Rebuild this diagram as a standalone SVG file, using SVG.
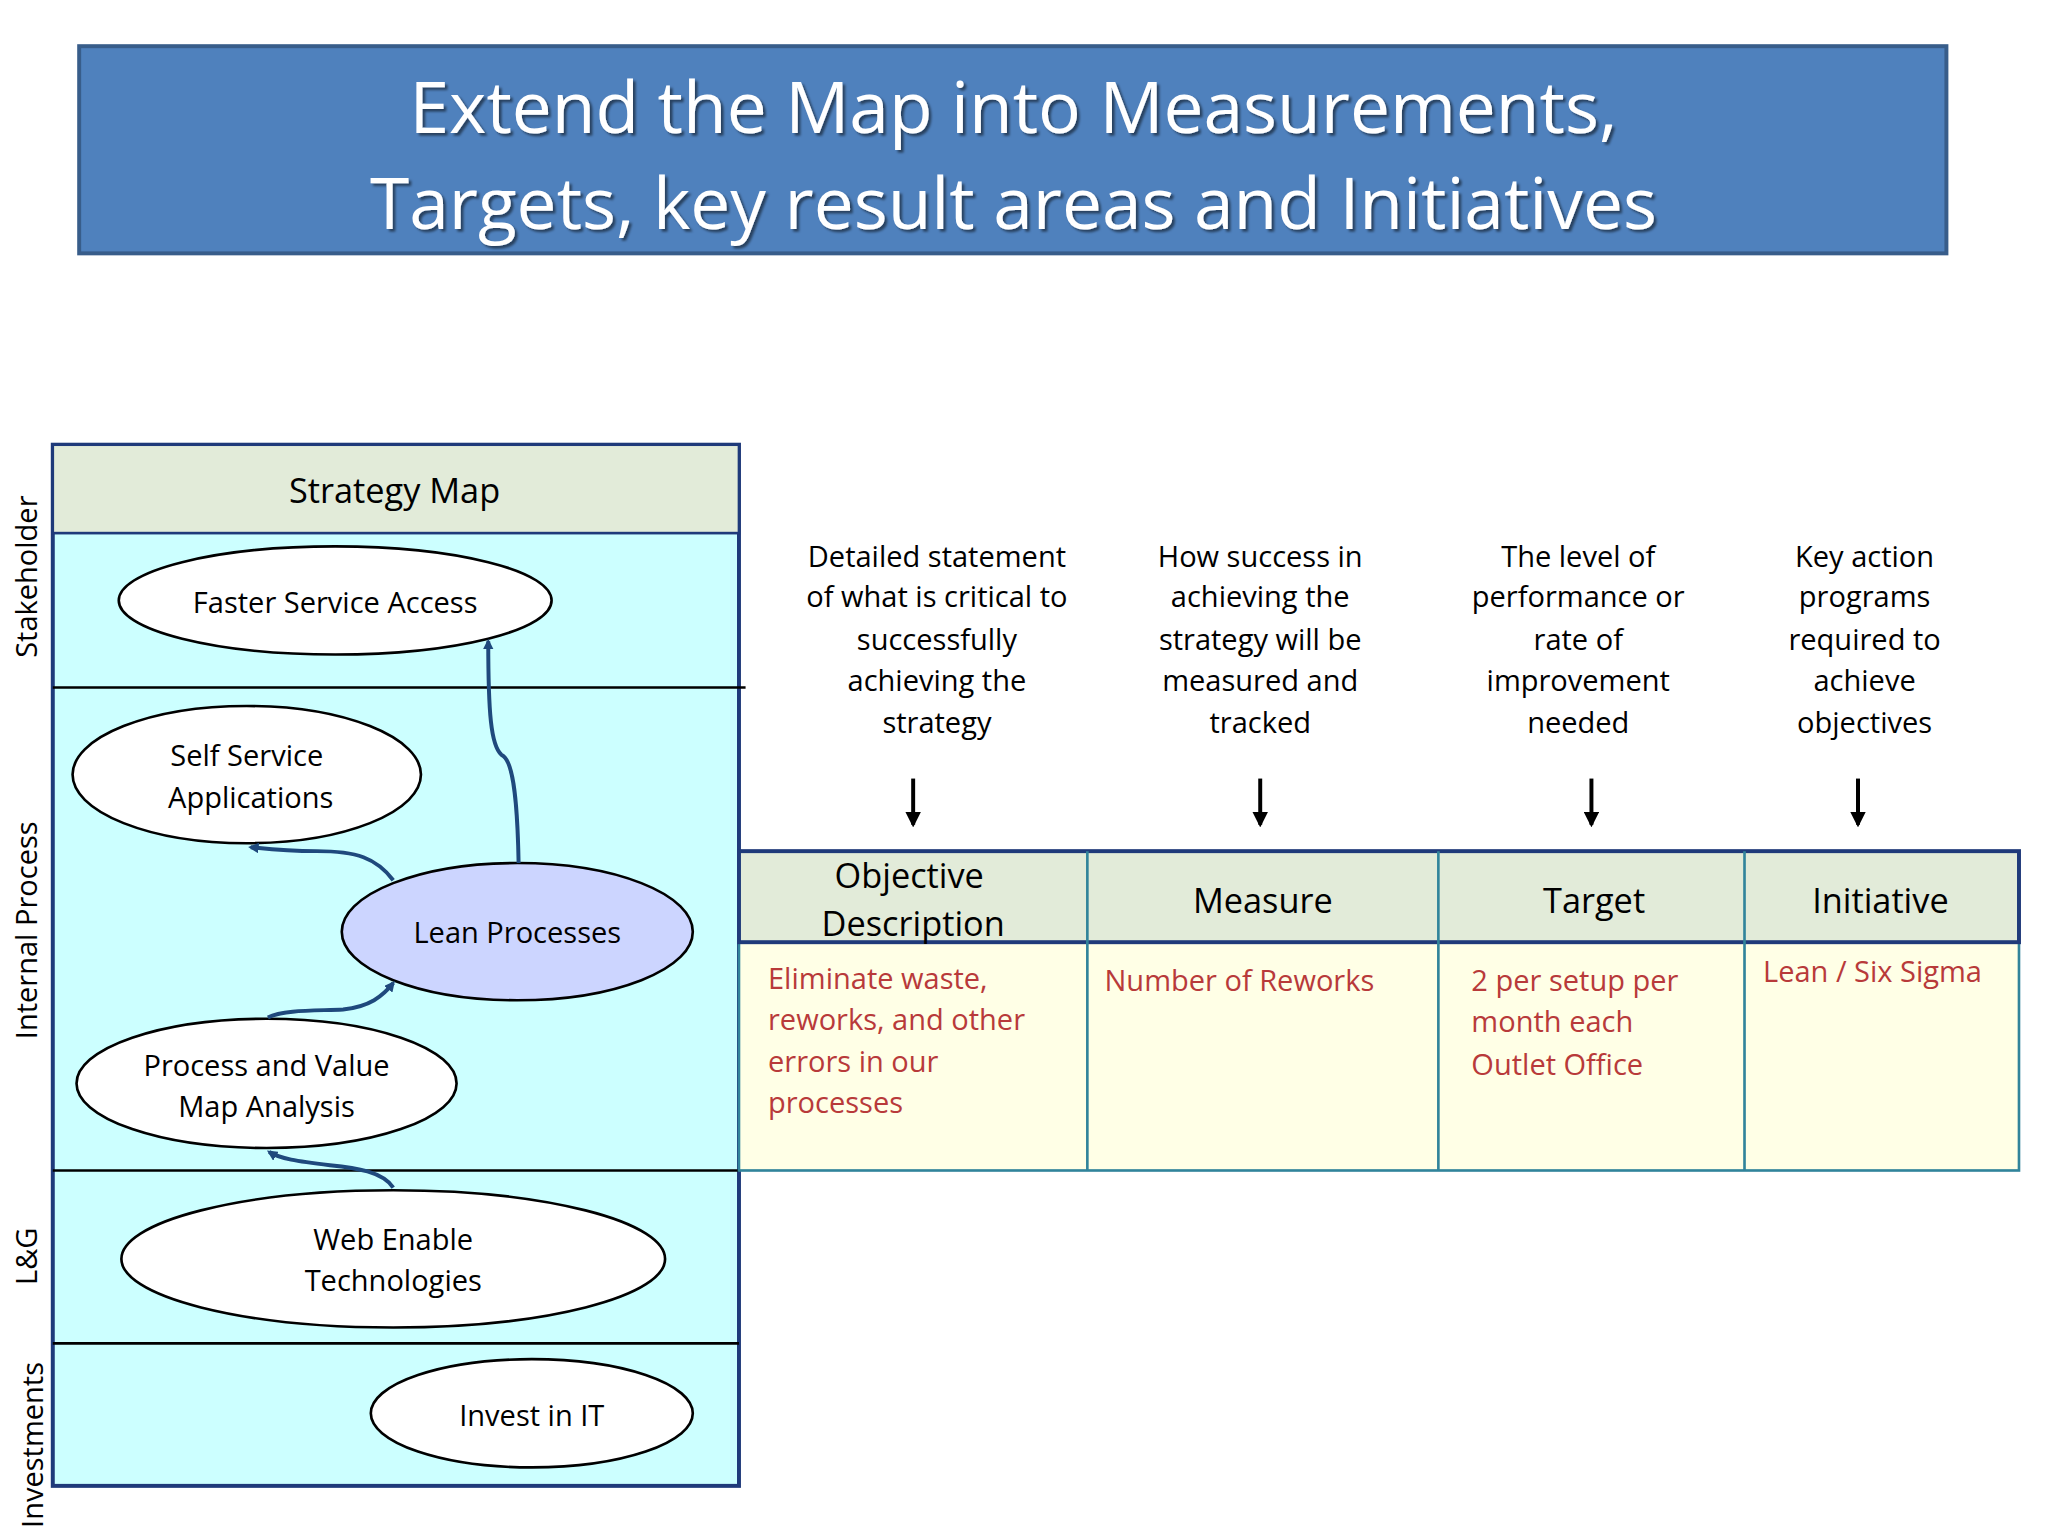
<svg xmlns="http://www.w3.org/2000/svg" width="2048" height="1536" viewBox="0 0 2048 1536">
<defs>
<marker id="ah" markerWidth="8" markerHeight="8" refX="6" refY="4" orient="auto" markerUnits="userSpaceOnUse"><path d="M0,0 L8,4 L0,8 Z" fill="#1F497D"/></marker>
<marker id="bk" markerWidth="12" markerHeight="12" refX="10" refY="6" orient="auto" markerUnits="userSpaceOnUse"><path d="M0,0 L12,6 L0,12 Z" fill="#000"/></marker>
<filter id="sh"><feDropShadow dx="2" dy="2" stdDeviation="1" flood-color="#000" flood-opacity="0.5"/></filter>
</defs>
<style>
text{font-family:"Open Sans","DejaVu Sans",sans-serif;}
.t{font-size:22px;fill:#000;text-anchor:middle;dominant-baseline:central}
.h{font-size:26px;fill:#000;text-anchor:middle;dominant-baseline:central}
.r{font-size:22px;fill:#B83A3A;dominant-baseline:central}
.el{fill:#fff;stroke:#000;stroke-width:2}
.c{fill:none;stroke:#1F497D;stroke-width:3;marker-end:url(#ah)}
.ln{stroke:#000;stroke-width:2}
</style>
<rect width="2048" height="1536" fill="#fff"/>
<g transform="scale(1.3196)">
<g id="title">
<rect x="60" y="35" width="1415" height="157" fill="#4F81BD" stroke="#385D8A" stroke-width="3"/>
<text x="768" y="80" font-size="54" fill="#fff" text-anchor="middle" dominant-baseline="central" filter="url(#sh)">Extend the Map into Measurements,</text>
<text x="768" y="153" font-size="54" fill="#fff" text-anchor="middle" dominant-baseline="central" filter="url(#sh)">Targets, key result areas and  Initiatives</text>
</g>
<g id="strategy-map">
<rect x="40" y="337" width="520" height="789" fill="#CCFFFF" stroke="#1F3A7A" stroke-width="3"/>
<rect x="40" y="337" width="520" height="67" fill="#E2EBD9" stroke="#1F3A7A" stroke-width="2"/>
<text class="h" x="299" y="371">Strategy Map</text>
<line class="ln" x1="40" y1="521" x2="565" y2="521"/>
<line class="ln" x1="40" y1="887" x2="560" y2="887"/>
<line class="ln" x1="40" y1="1018" x2="560" y2="1018"/>
<text class="t" transform="translate(20,437) rotate(-90)">Stakeholder</text>
<text class="t" transform="translate(20,705) rotate(-90)">Internal Process</text>
<text class="t" transform="translate(20,952) rotate(-90)">L&amp;G</text>
<text class="t" transform="translate(24,1095) rotate(-90)">Investments</text>
</g>
<g id="n-faster"><ellipse class="el" cx="254" cy="455" rx="164" ry="41"/><text class="t" x="254" y="456">Faster Service Access</text></g>
<g id="n-self"><ellipse class="el" cx="187" cy="587" rx="132" ry="52"/><text class="t" x="187" y="572">Self Service</text><text class="t" x="190" y="604">Applications</text></g>
<g id="n-lean"><ellipse cx="392" cy="706" rx="133" ry="52" fill="#CCD5FF" stroke="#000" stroke-width="2"/><text class="t" x="392" y="706">Lean Processes</text></g>
<g id="n-pvma"><ellipse class="el" cx="202" cy="821" rx="144" ry="49"/><text class="t" x="202" y="807">Process and Value</text><text class="t" x="202" y="838">Map Analysis</text></g>
<g id="n-web"><ellipse class="el" cx="298" cy="954" rx="206" ry="52"/><text class="t" x="298" y="939">Web Enable</text><text class="t" x="298" y="970">Technologies</text></g>
<g id="n-invest"><ellipse class="el" cx="403" cy="1071" rx="122" ry="41"/><text class="t" x="403" y="1072">Invest in IT</text></g>
<g id="connectors">
<path class="c" d="M393,654 C392,600 388,575 380,572 C372,565 370,540 370,486"/>
<path class="c" d="M298,667 C285,650 270,645 240,645 C215,645 200,643 190,642"/>
<path class="c" d="M203,771 C215,765 240,766 260,765 C280,763 290,755 298,745"/>
<path class="c" d="M298,900 C290,888 270,885 250,883 C225,880 212,878 204,873"/>
<line x1="692" y1="590" x2="692" y2="625" stroke="#000" stroke-width="3" marker-end="url(#bk)"/>
<line x1="955" y1="590" x2="955" y2="625" stroke="#000" stroke-width="3" marker-end="url(#bk)"/>
<line x1="1206" y1="590" x2="1206" y2="625" stroke="#000" stroke-width="3" marker-end="url(#bk)"/>
<line x1="1408" y1="590" x2="1408" y2="625" stroke="#000" stroke-width="3" marker-end="url(#bk)"/>
</g>
<g id="descriptions">
<text class="t" x="710" y="421">Detailed statement</text><text class="t" x="710" y="452">of what is critical to</text><text class="t" x="710" y="484">successfully</text><text class="t" x="710" y="515">achieving the</text><text class="t" x="710" y="547">strategy</text>
<text class="t" x="955" y="421">How success in</text><text class="t" x="955" y="452">achieving the</text><text class="t" x="955" y="484">strategy will be</text><text class="t" x="955" y="515">measured and</text><text class="t" x="955" y="547">tracked</text>
<text class="t" x="1196" y="421">The level of</text><text class="t" x="1196" y="452">performance or</text><text class="t" x="1196" y="484">rate of</text><text class="t" x="1196" y="515">improvement</text><text class="t" x="1196" y="547">needed</text>
<text class="t" x="1413" y="421">Key action</text><text class="t" x="1413" y="452">programs</text><text class="t" x="1413" y="484">required to</text><text class="t" x="1413" y="515">achieve</text><text class="t" x="1413" y="547">objectives</text>
</g>
<g id="table">
<rect x="560" y="714" width="970" height="173" fill="#FFFFE6" stroke="#31849B" stroke-width="2"/>
<rect x="560" y="645" width="970" height="69" fill="#E2EBD9" stroke="#1F3A7A" stroke-width="3"/>
<line x1="824" y1="645" x2="824" y2="887" stroke="#31849B" stroke-width="2"/>
<line x1="1090" y1="645" x2="1090" y2="887" stroke="#31849B" stroke-width="2"/>
<line x1="1322" y1="645" x2="1322" y2="887" stroke="#31849B" stroke-width="2"/>
<text class="h" x="689" y="663">Objective</text><text class="h" x="692" y="699">Description</text>
<text class="h" x="957" y="682">Measure</text><text class="h" x="1208" y="682">Target</text><text class="h" x="1425" y="682">Initiative</text>
<text class="r" x="582" y="741">Eliminate waste,</text><text class="r" x="582" y="772">reworks, and other</text><text class="r" x="582" y="804">errors in our</text><text class="r" x="582" y="835">processes</text>
<text class="r" x="837" y="743">Number of Reworks</text>
<text class="r" x="1115" y="743">2 per setup per</text><text class="r" x="1115" y="774">month each</text><text class="r" x="1115" y="806">Outlet Office</text>
<text class="r" x="1336" y="736">Lean / Six Sigma</text>
</g>
</g>
</svg>
